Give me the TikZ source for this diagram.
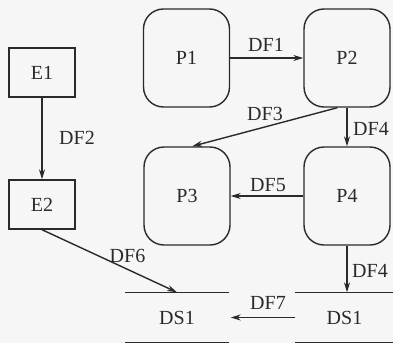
\documentclass[tikz,border=0pt]{standalone}
\usepackage{fontspec}
\setmainfont{Liberation Serif}
\usetikzlibrary{arrows.meta}
\definecolor{ink}{HTML}{2A2A2A}
\begin{document}
\begin{tikzpicture}[x=1pt,y=-1pt,
  line width=1.4pt, draw=ink, text=ink,
  font=\rmfamily\fontsize{20}{22}\selectfont,
  ent/.style={draw=ink, minimum width=66pt, minimum height=49pt, inner sep=0pt},
  proc/.style={draw=ink, rounded corners=20pt, minimum width=86pt, minimum height=98pt, inner sep=0pt},
  store/.style={minimum height=49pt, inner sep=0pt},
  flow/.style={draw=ink, -{Stealth[length=10pt,width=6pt]}},
  lbl/.style={inner sep=0pt}]
\useasboundingbox[fill=gray!7] (0,0) rectangle (393,343);

\node[ent] (E1) at (42,72.5) {E1};
\node[ent] (E2) at (42,204.5) {E2};
\node[proc] (P1) at (186.5,58) {P1};
\node[proc] (P2) at (347,58) {P2};
\node[proc] (P3) at (187,196) {P3};
\node[proc] (P4) at (347,196) {P4};

\node[store, minimum width=102pt] (DSl) at (177,317.5) {DS1};
\node[store, minimum width=97pt] (DSr) at (344.5,317.5) {DS1};
\draw (DSl.north west) -- (DSl.north east) (DSl.south west) -- (DSl.south east);
\draw (DSr.north west) -- (DSr.north east) (DSr.south west) -- (DSr.south east);

\draw[flow] (E1) -- (E2);
\draw[flow] (P1) -- (P2);
\draw[flow] (P2) -- (P4);
\draw[flow] (P2.259) -- (P3.84);
\draw[flow] (P4) -- (P3);
\draw[flow] (P4.south) -- (P4.south |- DSr.north);
\draw[flow] (DSr.west) -- ([xshift=2pt]DSl.east);
\draw[flow] (E2.south) -- (DSl.north);

\node[lbl] (l1) at (266,45) {DF1};
\node[lbl] (l2) at (77,138) {DF2};
\node[lbl] (l3) at (265,113.5) {DF3};
\node[lbl] (l4) at (371,129) {DF4};
\node[lbl] (l5) at (268,185.5) {DF5};
\node[lbl] (l6) at (127.5,256) {DF6};
\node[lbl] (l7) at (268,303) {DF7};
\node[lbl] (l8) at (370,270.5) {DF4};
\end{tikzpicture}
\end{document}
